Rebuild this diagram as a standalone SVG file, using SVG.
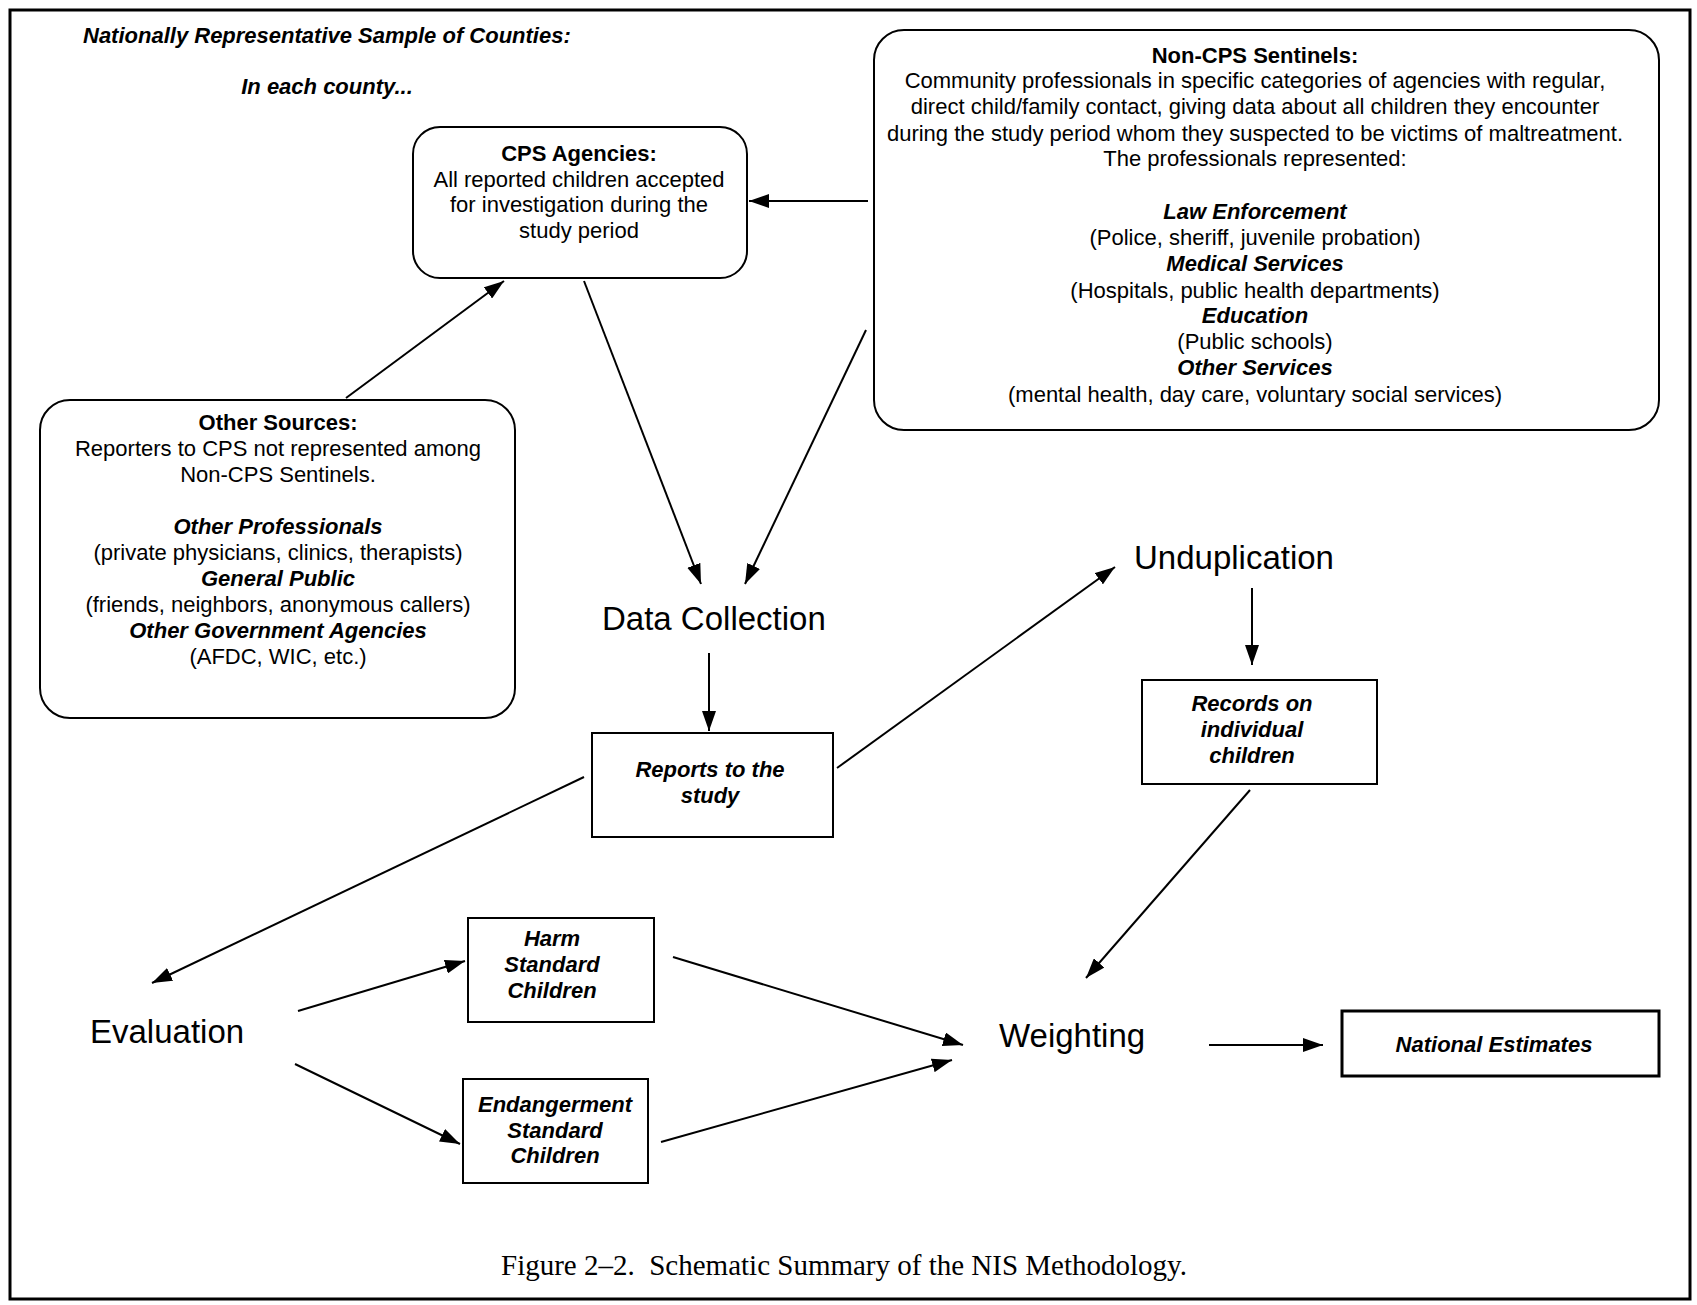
<svg xmlns="http://www.w3.org/2000/svg" width="1697" height="1305" viewBox="0 0 1697 1305">
<style>
.t{font-family:"Liberation Sans",Arial,sans-serif;font-size:22px;fill:#000;text-anchor:middle}
.b{font-weight:bold}
.bi{font-weight:bold;font-style:italic}
.big{font-family:"Liberation Sans",Arial,sans-serif;font-size:33px;fill:#000}
.box{fill:#fff;stroke:#000;stroke-width:2}
.cap{font-family:"Liberation Serif","Times New Roman",serif;font-size:29px;fill:#000;white-space:pre}
.c line{stroke:#000;stroke-width:2;marker-end:url(#ah)}
</style>
<defs>
<marker id="ah" markerUnits="userSpaceOnUse" markerWidth="22" markerHeight="14" refX="20" refY="7" orient="auto">
<path d="M0,0 L20,7 L0,14 Z" fill="#000"/>
</marker>
</defs>
<rect x="0" y="0" width="1697" height="1305" fill="#fff"/>
<rect x="10" y="10" width="1680" height="1289" fill="none" stroke="#000" stroke-width="3"/>

<g id="header">
<text class="t bi" x="83" y="43" style="text-anchor:start">Nationally Representative Sample of Counties:</text>
<text class="t bi" x="327" y="94">In each county...</text>
</g>

<g id="cps">
<rect class="box" x="413" y="127" width="334" height="151" rx="27"/>
<text class="t b" x="579" y="161">CPS Agencies:</text>
<text class="t" x="579" y="187">All reported children accepted</text>
<text class="t" x="579" y="212">for investigation during the</text>
<text class="t" x="579" y="238">study period</text>
</g>

<g id="noncps">
<rect class="box" x="874" y="30" width="785" height="400" rx="30"/>
<text class="t b" x="1255" y="63">Non-CPS Sentinels:</text>
<text class="t" x="1255" y="88">Community professionals in specific categories of agencies with regular,</text>
<text class="t" x="1255" y="114">direct child/family contact, giving data about all children they encounter</text>
<text class="t" x="1255" y="141">during the study period whom they suspected to be victims of maltreatment.</text>
<text class="t" x="1255" y="166">The professionals represented:</text>
<text class="t bi" x="1255" y="219">Law Enforcement</text>
<text class="t" x="1255" y="245">(Police, sheriff, juvenile probation)</text>
<text class="t bi" x="1255" y="271">Medical Services</text>
<text class="t" x="1255" y="298">(Hospitals, public health departments)</text>
<text class="t bi" x="1255" y="323">Education</text>
<text class="t" x="1255" y="349">(Public schools)</text>
<text class="t bi" x="1255" y="375">Other Services</text>
<text class="t" x="1255" y="402">(mental health, day care, voluntary social services)</text>
</g>

<g id="other">
<rect class="box" x="40" y="400" width="475" height="318" rx="30"/>
<text class="t b" x="278" y="430">Other Sources:</text>
<text class="t" x="278" y="456">Reporters to CPS not represented among</text>
<text class="t" x="278" y="482">Non-CPS Sentinels.</text>
<text class="t bi" x="278" y="534">Other Professionals</text>
<text class="t" x="278" y="560">(private physicians, clinics, therapists)</text>
<text class="t bi" x="278" y="586">General Public</text>
<text class="t" x="278" y="612">(friends, neighbors, anonymous callers)</text>
<text class="t bi" x="278" y="638">Other Government Agencies</text>
<text class="t" x="278" y="664">(AFDC, WIC, etc.)</text>
</g>

<g id="datacollection"><text class="big" x="602" y="630">Data Collection</text></g>
<g id="unduplication"><text class="big" x="1134" y="569">Unduplication</text></g>
<g id="evaluation"><text class="big" x="90" y="1043">Evaluation</text></g>
<g id="weighting"><text class="big" x="999" y="1047">Weighting</text></g>

<g id="reports">
<rect class="box" x="592" y="733" width="241" height="104"/>
<text class="t bi" x="710" y="777">Reports to the</text>
<text class="t bi" x="710" y="803">study</text>
</g>

<g id="records">
<rect class="box" x="1142" y="680" width="235" height="104"/>
<text class="t bi" x="1252" y="711">Records on</text>
<text class="t bi" x="1252" y="737">individual</text>
<text class="t bi" x="1252" y="763">children</text>
</g>

<g id="harm">
<rect class="box" x="468" y="918" width="186" height="104"/>
<text class="t bi" x="552" y="946">Harm</text>
<text class="t bi" x="552" y="972">Standard</text>
<text class="t bi" x="552" y="998">Children</text>
</g>

<g id="endangerment">
<rect class="box" x="463" y="1079" width="185" height="104"/>
<text class="t bi" x="555" y="1112">Endangerment</text>
<text class="t bi" x="555" y="1138">Standard</text>
<text class="t bi" x="555" y="1163">Children</text>
</g>

<g id="national">
<rect class="box" x="1342" y="1011" width="317" height="65" style="stroke-width:3"/>
<text class="t bi" x="1494" y="1052">National Estimates</text>
</g>

<g id="caption">
<text class="cap" x="501" y="1275" xml:space="preserve">Figure 2–2.  Schematic Summary of the NIS Methodology.</text>
</g>

<g id="connectors" class="c">
<line x1="868" y1="201" x2="749" y2="201"/>
<line x1="346" y1="398" x2="504" y2="281"/>
<line x1="584" y1="281" x2="701" y2="584"/>
<line x1="866" y1="330" x2="745" y2="584"/>
<line x1="709" y1="653" x2="709" y2="731"/>
<line x1="837" y1="768" x2="1115" y2="567"/>
<line x1="584" y1="777" x2="152" y2="983"/>
<line x1="1252" y1="588" x2="1252" y2="665"/>
<line x1="1250" y1="790" x2="1086" y2="978"/>
<line x1="298" y1="1011" x2="465" y2="961"/>
<line x1="295" y1="1064" x2="460" y2="1144"/>
<line x1="673" y1="957" x2="963" y2="1045"/>
<line x1="661" y1="1142" x2="952" y2="1060"/>
<line x1="1209" y1="1045" x2="1323" y2="1045"/>
</g>
</svg>
